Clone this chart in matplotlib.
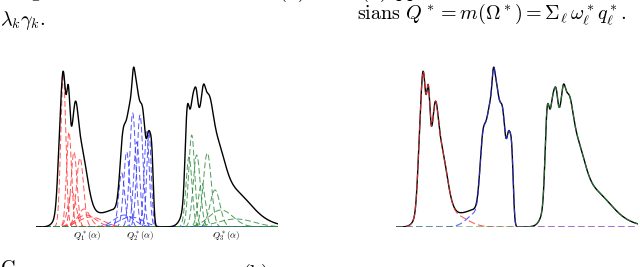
import numpy as np
import matplotlib
matplotlib.use("Agg")
import matplotlib.pyplot as plt

plt.rcParams["mathtext.fontset"] = "cm"

# total density, one group of bumps per cluster (centre, width, height)
red_centres = [23.5, 27.3, 32.3, 35.0, 39.5, 46.0, 58.0]
red_widths = [2.2, 2.3, 1.6, 8.0, 2.5, 6.0, 13.0]
red_heights = [45, 100, 61, 70, 36.7, 45, 12]

blue_centres = [82.0, 87.0, 93.0, 97.3, 98.0, 101.5, 107.0, 113.0, 116.0]
blue_widths = [10.0, 3.0, 3.0, 1.3, 3.0, 3.0, 3.0, 2.07, 1.5]
blue_heights = [15, 72, 80, 17, 82, 74, 100, 76, 50]

green_centres = [162.0, 151.0, 156.5, 160.3, 167.3, 173.0, 180.0, 195.0, 225.0]
green_widths = [8.0, 2.0, 3.0, 1.5, 2.0, 4.0, 8.0, 18.0, 18.0]
green_heights = [96, 70, 48, 14, 24, 40, 55, 36, 3]

# single components drawn in the left panel
red_comp_centres = [27.3, 33.0, 38.0, 44.0, 36.0, 50.0, 48.0, 55.0]
red_comp_widths = [2.5, 2.5, 3.0, 3.5, 4.0, 10.0, 6.0, 12.0]
red_comp_heights = [154, 95, 75, 69, 35, 12, 18, 10]

blue_comp_centres = [85.7, 90.7, 96.7, 104.0, 100.7, 110.7, 113.0, 88.0, 95.0]
blue_comp_widths = [3.0, 3.0, 3.0, 3.0, 3.0, 2.5, 2.2, 10.0, 12.0]
blue_comp_heights = [54, 75, 114, 112, 85, 97, 95, 12, 10]

green_comp_centres = [155.7, 153.0, 160.7, 171.3, 179.0, 165.7, 185.0, 200.0]
green_comp_widths = [3.0, 3.0, 3.5, 4.0, 5.0, 3.5, 12.0, 18.0]
green_comp_heights = [92, 70, 72, 74, 37, 44, 17, 8]

labels = [r"$Q_1^*(\alpha)$", r"$Q_2^*(\alpha)$", r"$Q_3^*(\alpha)$"]
label_pos = [51, 104, 190]

x = np.linspace(0, 242, 1500)


def bump(c, w, h):
    return h * np.exp(-0.5 * ((x - c) / w) ** 2)


def cluster(centres, widths, heights):
    total = np.zeros_like(x)
    for c, w, h in zip(centres, widths, heights):
        total += bump(c, w, h)
    return total


RED = "#ff3535"
BLUE = "#3535ff"
GREEN = "#2e8b3e"

q1 = cluster(red_centres, red_widths, red_heights)
q2 = cluster(blue_centres, blue_widths, blue_heights)
q3 = cluster(green_centres, green_widths, green_heights)
total = q1 + q2 + q3

fig = plt.figure(figsize=(6.4, 2.67), dpi=100)
W, H = 640.0, 267.0
ax1 = fig.add_axes([36 / W, (H - 227) / H, 242 / W, 167 / H])
ax2 = fig.add_axes([396 / W, (H - 227) / H, 242 / W, 167 / H])

# left: every single component
for centres, widths, heights, col in [
        (red_comp_centres, red_comp_widths, red_comp_heights, RED),
        (blue_comp_centres, blue_comp_widths, blue_comp_heights, BLUE),
        (green_comp_centres, green_comp_widths, green_comp_heights, GREEN)]:
    for c, w, h in zip(centres, widths, heights):
        ax1.plot(x, bump(c, w, h), color=col, lw=0.7, dashes=(6, 3), alpha=0.85)
ax1.plot(x, total, color="k", lw=1.0)
for lab, px in zip(labels, label_pos):
    ax1.text(px, -9, lab, fontsize=6.5, ha="center", va="center", clip_on=False)

# right: one curve per cluster, drawn over the total
ax2.plot(x, total, color="k", lw=1.0)
ax2.plot(x, q1, color=RED, lw=0.8, dashes=(6, 3), alpha=0.8)
ax2.plot(x, q2, color=BLUE, lw=0.8, dashes=(6, 3), alpha=0.8)
ax2.plot(x, q3, color=GREEN, lw=0.8, dashes=(6, 3), alpha=0.8)

for ax in (ax1, ax2):
    ax.set_xlim(0, 242)
    ax.set_ylim(0, 167)
    ax.axis("off")

# surrounding text of the page
fs = 14.5
fig.text(0, 1 - 25 / H, r"$\lambda_k\gamma_k.$", fontsize=fs, va="baseline")
fig.text(357 / W, 1 - 19 / H,
         r"$\mathrm{sians}\ Q^* = m(\Omega^*) = \Sigma_\ell\, \omega^*_\ell q^*_\ell.$",
         fontsize=fs, va="baseline")
fig.text(30 / W, 1 + 3 / H, r"$\mathrm{g}$", fontsize=fs, va="baseline")
fig.text(278 / W, 1 + 3 / H, r"$(x)$", fontsize=fs, va="baseline")
fig.text(360 / W, 1 + 3 / H, r"$(x)$", fontsize=fs, va="baseline")
fig.text(395 / W, 1 + 3 / H, r"$\mathrm{pp}$", fontsize=fs, va="baseline")
fig.text(0, 1 - 274 / H, r"$\mathrm{C}$", fontsize=fs, va="baseline")
fig.text(242 / W, 1 - 279 / H, r"$(\mathrm{b})$", fontsize=fs, va="baseline")

fig.savefig("out.png", dpi=100)
